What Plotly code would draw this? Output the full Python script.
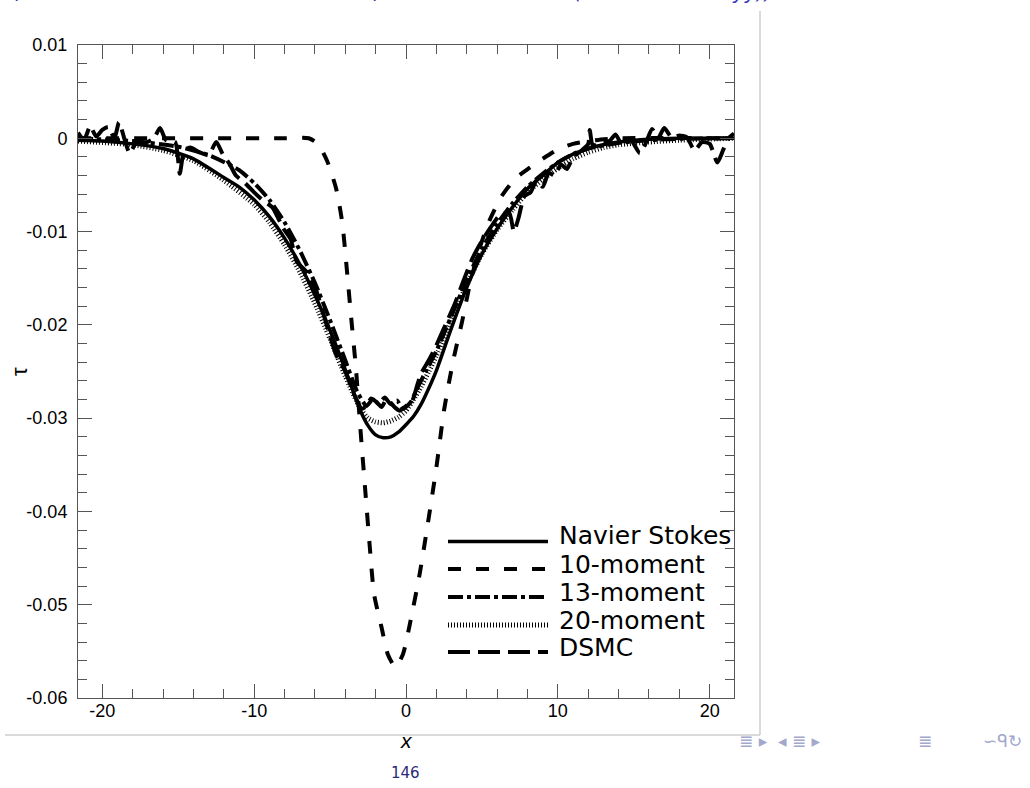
import plotly.graph_objects as go

# ---------------- data ----------------
ns_x = [-21.6, -20, -18, -16, -14, -12, -11, -10, -9, -8, -7, -6, -5, -4, -3, -2.5, -2, -1.5, -1, -0.5,
        0, 0.5, 1, 1.5, 2, 3, 4, 5, 6, 7, 8, 9, 10, 11, 12, 13, 14, 16, 18, 21.6]
ns_y = [-0.0002, -0.0003, -0.0006, -0.0011, -0.0022, -0.0042, -0.0052, -0.0066, -0.0084, -0.0107,
        -0.0135, -0.0168, -0.0206, -0.0248, -0.0292, -0.0308, -0.0318, -0.0321, -0.0320, -0.0315,
        -0.0307, -0.0298, -0.0285, -0.0268, -0.0249, -0.0203, -0.0160, -0.0124, -0.0097, -0.0074,
        -0.0054, -0.0040, -0.0026, -0.0017, -0.0011, -0.0007, -0.0004, -0.0001, 0.0, 0.0]

m10_x = [-21.6, -8, -6.4, -5.8, -5.2, -4.6, -4.2, -3.9, -3.6, -3.3, -3.0, -2.7, -2.4, -2.1, -1.6, -1.2,
         -0.7, -0.2, 0.3, 0.9, 1.4, 2.0, 2.5, 3.1, 3.7, 4.2, 4.8, 5.5, 6.3, 7.2, 8.1, 9.0, 10.0, 11.0,
         12.5, 14.0, 21.6]
m10_y = [0.0, 0.0, 0.0, -0.0006, -0.0024, -0.0054, -0.0090, -0.0140, -0.0194, -0.0246, -0.0312,
         -0.0374, -0.0435, -0.0489, -0.0525, -0.0553, -0.0567, -0.0553, -0.0517, -0.0467, -0.0417,
         -0.0353, -0.0292, -0.0239, -0.0196, -0.0157, -0.0120, -0.0088, -0.0062, -0.0043, -0.0032,
         -0.0022, -0.0012, -0.0006, -0.0002, 0.0, 0.0]

m13_x = [-21.6, -18, -15, -13, -11, -10, -9, -8, -7, -6, -5, -4, -3.2, -2.6, -2.2, -1.8, -1.4, -1.0,
         -0.6, -0.2, 0.3, 0.8, 1.3, 2, 3, 4, 5, 6, 7, 8, 9, 10, 11, 12, 14, 17, 21.6]
m13_y = [0.0, -0.0003, -0.0009, -0.0018, -0.0034, -0.0048, -0.0066, -0.0090, -0.0120, -0.0155,
         -0.0195, -0.0238, -0.0272, -0.0287, -0.0280, -0.0284, -0.0278, -0.0285, -0.0281, -0.0290,
         -0.0283, -0.0266, -0.0250, -0.0228, -0.0190, -0.0152, -0.0118, -0.0092, -0.0070, -0.0052,
         -0.0038, -0.0026, -0.0017, -0.0011, -0.0005, -0.0001, 0.0]

m20_x = [-21.6, -18, -16, -14, -12, -10, -9, -8, -7, -6, -5, -4, -3, -2.5, -2, -1.5, -1, -0.5, 0, 0.5,
         1, 1.5, 2, 3, 4, 5, 6, 7, 8, 9, 10, 11, 12, 13, 14, 16, 18, 21.6]
m20_y = [-0.0003, -0.0007, -0.0013, -0.0024, -0.0045, -0.0071, -0.0090, -0.0114, -0.0143, -0.0177,
         -0.0215, -0.0255, -0.0290, -0.0300, -0.0304, -0.0305, -0.0303, -0.0299, -0.0292, -0.0280,
         -0.0266, -0.0250, -0.0233, -0.0195, -0.0157, -0.0124, -0.0098, -0.0077, -0.0058, -0.0044,
         -0.0032, -0.0022, -0.0015, -0.0010, -0.0007, -0.0004, -0.0002, 0.0]

dsmc_x = [-21.6, -21.2, -20.8, -20.4, -20.0, -19.6, -19.2, -18.9, -18.5, -18.2, -17.8, -17.2, -16.6,
          -16.2, -15.8, -15.2, -14.9, -14.6, -14.2, -13.6, -13.0, -12.5, -12.1, -11.6, -11.2, -10.6,
          -10.0, -9.4, -8.8, -8.1, -7.6, -7.2, -6.5, -5.9, -5.3, -4.6, -4.0, -3.4, -2.9, -2.6, -2.3,
          -2.0, -1.6, -1.3, -1.0, -0.7, -0.4, 0.0, 0.4, 0.75, 1.0, 1.5, 2.0, 2.6, 3.2, 3.8, 4.4, 5.0,
          5.6, 6.2, 6.8, 7.1, 7.4, 7.8, 8.2, 8.6, 9.0, 9.4, 9.8, 10.2, 10.6, 11.0, 11.5, 12.0, 12.1,
          12.3, 12.8, 13.4, 13.8, 14.2, 14.8, 15.4, 15.8, 16.2, 16.6, 17.0, 17.5, 18.0, 18.5, 19.0,
          19.5, 20.0, 20.5, 20.9, 21.3, 21.6]
dsmc_y = [0.0006, -0.0002, 0.0013, 0.0002, 0.0009, 0.0012, 0.0000, 0.0017, -0.0003, -0.0016,
          -0.0006, -0.0005, 0.0000, 0.0011, -0.0002, -0.0004, -0.0038, -0.0013, -0.0010, -0.0015,
          -0.0018, -0.0004, -0.0016, -0.0028, -0.0040, -0.0048, -0.0058, -0.0067, -0.0074, -0.0096,
          -0.0108, -0.0132, -0.0144, -0.0164, -0.0196, -0.0232, -0.0250, -0.0275, -0.0290, -0.0287,
          -0.0279, -0.0282, -0.0288, -0.0280, -0.0284, -0.0289, -0.0292, -0.0287, -0.0282, -0.0264,
          -0.0252, -0.0238, -0.0222, -0.0200, -0.0178, -0.0152, -0.0128, -0.0110, -0.0095, -0.0082,
          -0.0080, -0.0100, -0.0086, -0.0062, -0.0058, -0.0045, -0.0052, -0.0037, -0.0040, -0.0028,
          -0.0033, -0.0020, -0.0014, -0.0006, 0.0009, -0.0008, -0.0004, -0.0003, 0.0004, -0.0006,
          -0.0002, -0.0016, -0.0005, 0.0010, 0.0000, 0.0011, 0.0001, 0.0003, 0.0001, -0.0013,
          -0.0004, -0.0006, -0.0026, -0.0012, 0.0001, 0.0005]

names = ["Navier Stokes", "10-moment", "13-moment", "20-moment", "DSMC"]
x_tickvals = [-20, -10, 0, 10, 20]
x_ticktext = ["-20", "-10", "0", "10", "20"]
y_tickvals = [0.01, 0.0, -0.01, -0.02, -0.03, -0.04, -0.05, -0.06]
y_ticktext = ["0.01", "0", "-0.01", "-0.02", "-0.03", "-0.04", "-0.05", "-0.06"]

# ---------------- figure ----------------
W, H = 1030, 788
L, R, T, B = 78, 734, 45, 698   # plot area in px
FONT = "Liberation Sans, Arial, sans-serif"


def px_x(p):
    return (p - L) / (R - L)


def px_y(p):
    return (B - p) / (B - T)


fig = go.Figure()
styles = [
    dict(width=3.5, dash="solid"),
    dict(width=4, dash="13px,15px"),
    dict(width=4, dash="15px,4px,4px,4px"),
    dict(width=5, dash="1px,2px"),
    dict(width=4, dash="22px,8px"),
]
series = [(ns_x, ns_y), (m10_x, m10_y), (m13_x, m13_y), (m20_x, m20_y), (dsmc_x, dsmc_y)]
for (xs, ys), nm, st in zip(series, names, styles):
    fig.add_trace(go.Scatter(x=xs, y=ys, name=nm, mode="lines", showlegend=False,
                             line=dict(color="black", width=st["width"], dash=st["dash"],
                                       shape="spline", smoothing=0.6)))

axis_common = dict(showgrid=False, zeroline=False, showline=True, linecolor="#555555",
                   linewidth=1, mirror="allticks", ticks="inside", ticklen=14,
                   tickcolor="#555555", tickwidth=1,
                   tickfont=dict(family=FONT, size=18, color="black"))

fig.update_xaxes(range=[-21.6, 21.6], tickmode="array", tickvals=x_tickvals,
                 ticktext=x_ticktext, ticklabelstandoff=-4,
                 minor=dict(tickmode="linear", tick0=0, dtick=2, ticks="inside", ticklen=9,
                            tickcolor="#555555", tickwidth=1),
                 **axis_common)
fig.update_yaxes(range=[-0.06, 0.01], tickmode="array", tickvals=y_tickvals,
                 ticktext=y_ticktext, ticklabelstandoff=6,
                 minor=dict(tickmode="linear", tick0=0, dtick=0.002, ticks="inside", ticklen=9,
                            tickcolor="#555555", tickwidth=1),
                 **axis_common)

annotations = [
    dict(text="τ", x=px_x(20), y=px_y(372), textangle=-90,
         font=dict(family=FONT, size=22, color="black")),
    dict(text="<i>x</i>", x=px_x(406), y=px_y(740),
         font=dict(family=FONT, size=21, color="black")),
    dict(text="146", x=px_x(405), y=px_y(773),
         font=dict(family="DejaVu Sans, sans-serif", size=15, color="#2a2a78")),
    dict(text="≣ ▸  ◂ ≣ ▸", x=px_x(737), y=px_y(741), xanchor="left",
         font=dict(family="DejaVu Sans, sans-serif", size=17, color="#a3a8cc")),
    dict(text="≣", x=px_x(925), y=px_y(741),
         font=dict(family="DejaVu Sans, sans-serif", size=17, color="#a3a8cc")),
    dict(text="∽ᑫ↻", x=px_x(1002), y=px_y(741),
         font=dict(family="DejaVu Sans, sans-serif", size=17, color="#a3a8cc")),
]
# bottoms of the cut-off slide formula at the very top
for txt, xp in [("/", 20), ("/", 378), ("xx", 432), ("(", 578), ("xx", 626), ("yy))", 752)]:
    annotations.append(dict(text="<i>%s</i>" % txt, x=px_x(xp), y=px_y(6), yanchor="bottom",
                            font=dict(family="DejaVu Sans, sans-serif", size=20,
                                      color="#3a3ab8")))

# hand-drawn legend (line samples + labels)
leg_line_y = [541.5, 569, 597, 625, 652]
leg_text_y = [535, 564, 592, 620, 647]
shapes = [
    dict(type="line", xref="paper", yref="paper", x0=px_x(760), x1=px_x(760),
         y0=px_y(11), y1=px_y(735), line=dict(color="#b5b5b5", width=1)),
    dict(type="line", xref="paper", yref="paper", x0=px_x(5), x1=px_x(760),
         y0=px_y(735), y1=px_y(735), line=dict(color="#b5b5b5", width=1)),
]
for nm, st, ly, ty in zip(names, styles, leg_line_y, leg_text_y):
    shapes.append(dict(type="line", xref="paper", yref="paper", x0=px_x(448), x1=px_x(548),
                       y0=px_y(ly), y1=px_y(ly),
                       line=dict(color="black", width=st["width"], dash=st["dash"])))
    annotations.append(dict(text=nm, x=px_x(557), y=px_y(ty), xanchor="left",
                            font=dict(family="DejaVu Sans, sans-serif", size=25,
                                      color="black")))

for a in annotations:
    a.setdefault("xanchor", "center")
    a.setdefault("yanchor", "middle")
    a.update(xref="paper", yref="paper", showarrow=False)

fig.update_layout(
    width=W, height=H,
    margin=dict(l=L, r=W - R, t=T, b=H - B, pad=0),
    paper_bgcolor="white", plot_bgcolor="white",
    annotations=annotations, shapes=shapes,
    showlegend=False,
)

fig.write_html("out.html")
